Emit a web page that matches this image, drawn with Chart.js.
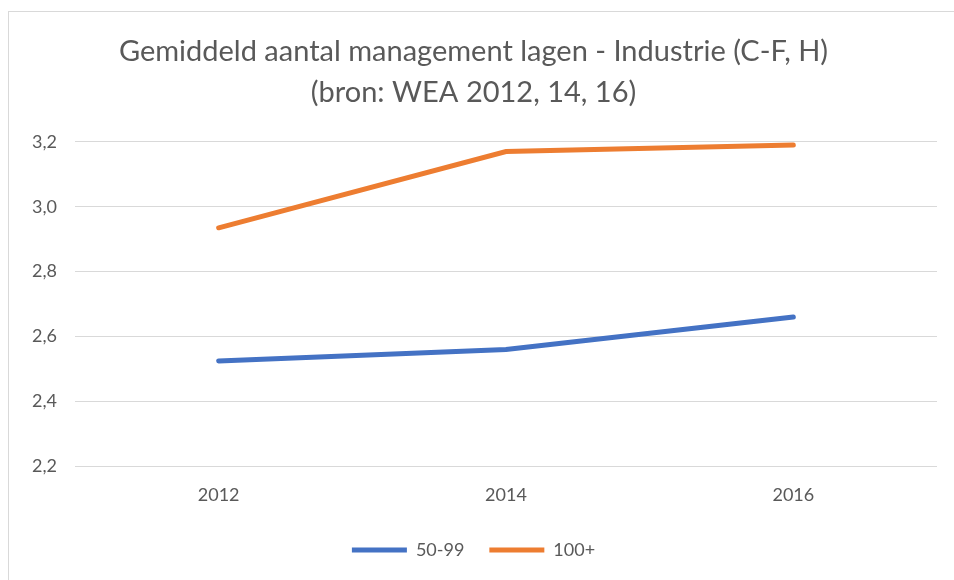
<!DOCTYPE html>
<html lang="nl">
<head>
    <meta charset="UTF-8">
    <title>Gemiddeld aantal management lagen</title>
    <script src="https://cdn.jsdelivr.net/npm/chart.js"></script>
    <style>
        body { margin: 0; background: #fff; }
        .wrap { position: relative; width: 954px; height: 580px; overflow: hidden; }
        .frame {
            position: absolute; left: 8px; top: 11px; right: -2px; bottom: -2px;
            border-left: 1px solid #d9d9d9; border-top: 1px solid #d9d9d9;
        }
        canvas { position: absolute; left: 0; top: 0; }
    </style>
</head>
<body>
    <div class="wrap">
        <div class="frame"></div>
        <canvas id="chart" width="954" height="580"></canvas>
    </div>

    <script>
        // chart data
        const years = ['2012', '2014', '2016'];
        const small = [2.525, 2.56, 2.66];   // 50-99
        const large = [2.935, 3.17, 3.19];   // 100+
        const titleLines = ['Gemiddeld aantal management lagen - Industrie (C-F, H)', '(bron: WEA 2012, 14, 16)'];

        const grey = '#595959';
        const font = 'Lato, "Open Sans", sans-serif';

        const ctx = document.getElementById('chart').getContext('2d');
        new Chart(ctx, {
            type: 'line',
            data: {
                labels: years,
                datasets: [{
                    label: '50-99',
                    data: small,
                    borderColor: '#4472C4',
                    backgroundColor: '#4472C4',
                    borderWidth: 5,
                    pointRadius: 0,
                    borderCapStyle: 'round',
                    tension: 0
                }, {
                    label: '100+',
                    data: large,
                    borderColor: '#ED7D31',
                    backgroundColor: '#ED7D31',
                    borderWidth: 5,
                    pointRadius: 0,
                    borderCapStyle: 'round',
                    tension: 0
                }]
            },
            options: {
                responsive: false,
                animation: false,
                layout: { padding: { left: 10, right: 17, top: 31, bottom: 11 } },
                scales: {
                    x: {
                        offset: true,
                        grid: { display: false },
                        border: { display: false },
                        ticks: { color: grey, font: { family: font, size: 18 }, padding: 10 }
                    },
                    y: {
                        min: 2.2,
                        max: 3.2,
                        grid: { color: '#d9d9d9', drawTicks: false },
                        border: { display: false },
                        afterFit: function (scale) { scale.width = 65; },
                        ticks: {
                            stepSize: 0.2,
                            color: grey,
                            padding: 18,
                            font: { family: font, size: 18 },
                            callback: function (v) { return v.toFixed(1).replace('.', ','); }
                        }
                    }
                },
                plugins: {
                    title: {
                        display: true,
                        text: titleLines,
                        color: grey,
                        font: { family: font, size: 29, weight: 'normal', lineHeight: 1.41 },
                        padding: { top: 0, bottom: 29 }
                    },
                    legend: {
                        position: 'bottom',
                        labels: {
                            color: grey,
                            font: { family: font, size: 18 },
                            boxWidth: 55,
                            boxHeight: 5,
                            padding: 25,
                            generateLabels: function (chart) {
                                return chart.data.datasets.map((ds, i) => ({
                                    text: ds.label,
                                    fillStyle: ds.borderColor,
                                    strokeStyle: ds.borderColor,
                                    lineWidth: 0,
                                    fontColor: grey,
                                    datasetIndex: i
                                }));
                            }
                        }
                    },
                    tooltip: { enabled: false }
                }
            }
        });
    </script>
</body>
</html>
